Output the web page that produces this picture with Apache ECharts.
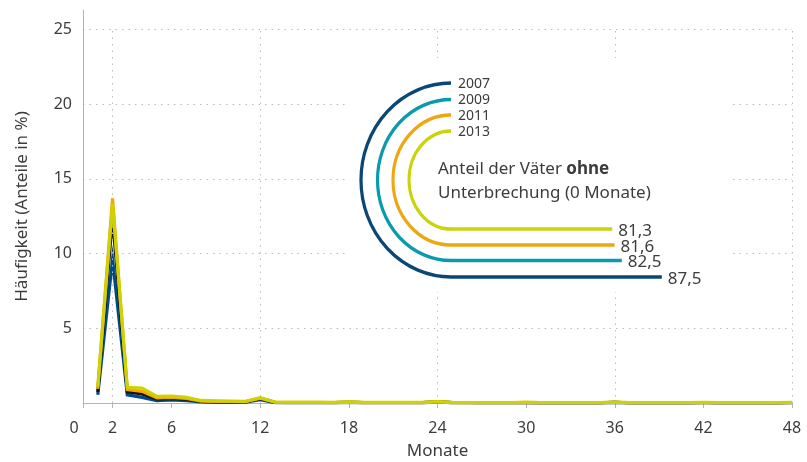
<!DOCTYPE html>
<html>
<head>
<meta charset="utf-8">
<script src="https://cdn.jsdelivr.net/npm/echarts@6/dist/echarts.min.js"></script>
<style>
  html, body { margin: 0; padding: 0; background: #fff; }
  #chart { width: 807px; height: 462px; }
</style>
</head>
<body>
<div id="chart"></div>
<script>
// months 1..48 after birth
const months = Array.from({ length: 48 }, (_, i) => i + 1);

const years = ['2007', '2009', '2011', '2013'];

// Häufigkeit in % per month of interruption
const share2007 = [
  0.55, 9.6, 0.55, 0.38, 0.15, 0.2, 0.15, 0.07, 0.06, 0.06, 0.05, 0.22,
  0.03, 0.02, 0.02, 0.02, 0.02, 0.04, 0.02, 0.02, 0.02, 0.02, 0.02, 0.06,
  0.02, 0.02, 0.01, 0.01, 0.01, 0.03, 0.01, 0.01, 0.01, 0.01, 0.01, 0.04,
  0.01, 0.01, 0.01, 0.01, 0.01, 0.02, 0.01, 0.01, 0.01, 0.01, 0.01, 0.02
];
const share2009 = [
  0.75, 12.4, 0.75, 0.6, 0.28, 0.3, 0.25, 0.1, 0.08, 0.08, 0.07, 0.3,
  0.04, 0.03, 0.03, 0.03, 0.03, 0.05, 0.03, 0.03, 0.02, 0.02, 0.02, 0.07,
  0.02, 0.02, 0.02, 0.02, 0.02, 0.03, 0.01, 0.01, 0.01, 0.01, 0.01, 0.04,
  0.01, 0.01, 0.01, 0.01, 0.01, 0.02, 0.01, 0.01, 0.01, 0.01, 0.01, 0.02
];
const share2011 = [
  0.95, 13.7, 0.9, 0.78, 0.35, 0.38, 0.3, 0.13, 0.11, 0.1, 0.09, 0.32,
  0.05, 0.04, 0.04, 0.04, 0.03, 0.06, 0.03, 0.03, 0.03, 0.03, 0.03, 0.08,
  0.03, 0.02, 0.02, 0.02, 0.02, 0.04, 0.02, 0.02, 0.02, 0.02, 0.02, 0.05,
  0.02, 0.02, 0.02, 0.02, 0.02, 0.03, 0.02, 0.02, 0.02, 0.02, 0.02, 0.03
];
const share2013 = [
  1.1, 13.3, 1.05, 1.0, 0.45, 0.47, 0.38, 0.17, 0.14, 0.13, 0.11, 0.35,
  0.06, 0.05, 0.05, 0.05, 0.04, 0.07, 0.04, 0.04, 0.04, 0.04, 0.04, 0.09,
  0.04, 0.03, 0.03, 0.03, 0.03, 0.05, 0.03, 0.03, 0.03, 0.03, 0.03, 0.06,
  0.03, 0.03, 0.03, 0.03, 0.03, 0.04, 0.03, 0.03, 0.03, 0.03, 0.03, 0.04
];

// Anteil der Väter ohne Unterbrechung (0 Monate), in %
const shareNone = [87.5, 82.5, 81.6, 81.3];

const xTicks = [0, 2, 6, 12, 18, 24, 30, 36, 42, 48];
const xGridTicks = [2, 12, 24, 36, 48];
const yTicks = [5, 10, 15, 20, 25];

const font = '"Noto Sans", sans-serif';
const textColor = '#3c3c3c';
const gridColor = '#bcbcbc';
const lineColors = ['#00498a', '#111111', '#f2a600', '#cdd200'];
const legendColors = ['#0a4777', '#0a9aab', '#eea612', '#cbd30c'];

const chart = echarts.init(document.getElementById('chart'), null, { renderer: 'canvas' });

// legend decoration: half rings with tails whose length follows shareNone
const cy = 180;
const topX = 451;
const radiiY = [97, 80.5, 65, 49];
const graphics = [{
  type: 'rect',
  z: 50,
  shape: { x: 348, y: 58, width: 382, height: 234 },
  style: { fill: '#fff' },
  silent: true
}];
years.forEach((yr, i) => {
  const ry = radiiY[i];
  const rx = ry - 7;
  const endX = 453 + (shareNone[i] - 61.4) * 8;
  graphics.push({
    type: 'arc',
    z: 51,
    x: topX, y: cy,
    scaleX: rx / ry,
    shape: { cx: 0, cy: 0, r: ry, startAngle: Math.PI / 2, endAngle: Math.PI * 1.5, clockwise: true },
    style: { fill: null, stroke: legendColors[i], lineWidth: 3.5, strokeNoScale: true }
  });
  graphics.push({
    type: 'line',
    z: 51,
    shape: { x1: topX, y1: cy + ry, x2: endX, y2: cy + ry },
    style: { stroke: legendColors[i], lineWidth: 3.5 }
  });
  graphics.push({
    type: 'text',
    z: 51,
    x: topX + 7, y: cy - ry + 1,
    style: { text: yr, fontFamily: font, fontSize: 14, fill: textColor, verticalAlign: 'middle' }
  });
  graphics.push({
    type: 'text',
    z: 51,
    x: endX + 6, y: cy + ry + 2,
    style: { text: shareNone[i].toFixed(1).replace('.', ','), fontFamily: font, fontSize: 17, fill: textColor, verticalAlign: 'middle' }
  });
});
graphics.push({
  type: 'text',
  z: 51,
  x: 438, y: 169,
  style: {
    text: '{n|Anteil der Väter }{b|ohne}',
    verticalAlign: 'middle',
    rich: {
      n: { fontFamily: font, fontSize: 17, fill: textColor },
      b: { fontFamily: font, fontSize: 17, fontWeight: 'bold', fill: textColor }
    }
  }
});
graphics.push({
  type: 'text',
  z: 51,
  x: 438, y: 193,
  style: { text: 'Unterbrechung (0 Monate)', fontFamily: font, fontSize: 17, fill: textColor, verticalAlign: 'middle' }
});

const seriesData = [share2007, share2009, share2011, share2013];

const series = years.map((yr, i) => ({
  name: yr,
  type: 'line',
  data: months.map((m, j) => [m, seriesData[i][j]]),
  symbol: 'none',
  lineStyle: { color: lineColors[i], width: 3.2, join: 'miter' },
  z: 3 + i
}));
// vertical dotted guide lines
series.push({
  type: 'line',
  data: [],
  silent: true,
  z: 1,
  markLine: {
    silent: true,
    symbol: 'none',
    label: { show: false },
    lineStyle: { color: gridColor, type: [1.5, 5], width: 1 },
    data: xGridTicks.map(v => [{ coord: [v, 0] }, { coord: [v, 25] }])
  }
});

chart.setOption({
  animation: false,
  backgroundColor: '#fff',
  grid: { left: 83, right: 15, top: 10, bottom: 59, containLabel: false, outerBoundsMode: 'none' },
  xAxis: {
    type: 'value',
    min: 0,
    max: 48,
    name: 'Monate',
    nameLocation: 'middle',
    nameGap: 40,
    nameTextStyle: { fontFamily: font, fontSize: 17, color: textColor },
    axisLine: { show: true, lineStyle: { color: '#b4b4b4', width: 1 } },
    axisTick: { show: true, customValues: xTicks, length: 5, lineStyle: { color: '#b4b4b4' } },
    axisLabel: {
      customValues: xTicks,
      margin: 17,
      fontFamily: font,
      fontSize: 16,
      color: textColor,
      formatter: v => (v === 0 ? '{z|0}' : String(v)),
      rich: { z: { padding: [0, 18, 0, 0], fontFamily: font, fontSize: 16, color: textColor } }
    },
    splitLine: { show: false }
  },
  yAxis: {
    type: 'value',
    min: 0,
    max: 26.3,
    name: 'Häufigkeit (Anteile in %)',
    nameLocation: 'middle',
    nameGap: 52,
    nameTextStyle: { fontFamily: font, fontSize: 17, color: textColor },
    axisLine: { show: true, lineStyle: { color: '#b4b4b4', width: 1 } },
    axisTick: { show: false, customValues: yTicks },
    axisLabel: { customValues: yTicks, margin: 11, fontFamily: font, fontSize: 16, color: textColor },
    splitLine: { show: true, lineStyle: { color: gridColor, type: [1.5, 5], width: 1 } }
  },
  series: series,
  graphic: { elements: graphics }
});
</script>
</body>
</html>
